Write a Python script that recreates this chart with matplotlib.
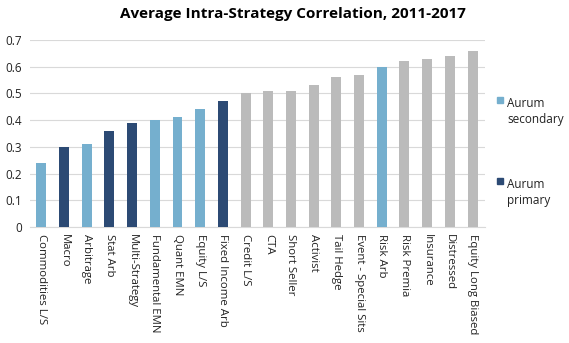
import matplotlib.pyplot as plt

plt.rcParams['font.family'] = ['Open Sans', 'DejaVu Sans']

# Average intra-strategy correlation by strategy
strategies = ["Commodities L/S", "Macro", "Arbitrage", "Stat Arb", "Multi-Strategy",
              "Fundamental EMN", "Quant EMN", "Equity L/S", "Fixed Income Arb",
              "Credit L/S", "CTA", "Short Seller", "Activist", "Tail Hedge",
              "Event - Special Sits", "Risk Arb", "Risk Premia", "Insurance",
              "Distressed", "Equity Long Biased"]
corr = [0.24, 0.30, 0.31, 0.36, 0.39, 0.40, 0.41, 0.44, 0.47,
        0.50, 0.51, 0.51, 0.53, 0.56, 0.57, 0.60, 0.62, 0.63, 0.64, 0.66]
# s = Aurum secondary, p = Aurum primary, o = other
group = ["s", "p", "s", "p", "p", "s", "s", "s", "p",
         "o", "o", "o", "o", "o", "o", "s", "o", "o", "o", "o"]

c_sec = "#75AFCE"
c_pri = "#2C4A74"
c_oth = "#BBBBBB"
cmap = {"s": c_sec, "p": c_pri, "o": c_oth}

fig = plt.figure(figsize=(5.69, 3.43), dpi=100)
ax = fig.add_axes([30/569, 1 - 227/343, 455/569, 187/343])

x = range(len(strategies))
ax.bar(x, corr, width=0.44, color=[cmap[g] for g in group], zorder=3)

ax.set_ylim(0, 0.7)
ax.set_xlim(-0.5, 19.55)
ax.set_yticks([0, 0.1, 0.2, 0.3, 0.4, 0.5, 0.6, 0.7])
ax.set_yticklabels(["0", "0.1", "0.2", "0.3", "0.4", "0.5", "0.6", "0.7"], fontsize=8.5)
ax.set_xticks(list(x))
ax.set_xticklabels(strategies, rotation=270, fontsize=8.2, va="top", ha="center")
ax.tick_params(length=0, pad=5, colors="#222222")
ax.tick_params(axis="y", pad=6)
ax.grid(axis="y", color="#D9D9D9", linewidth=0.8, zorder=0)
for s in ["top", "right", "left"]:
    ax.spines[s].set_visible(False)
ax.spines["bottom"].set_color("#D9D9D9")

fig.text(293/569, 1 - 14/343, "Average Intra-Strategy Correlation, 2011-2017",
         ha="center", va="center", fontsize=11, fontweight="bold")

# legend entries stacked on the right
for ypx, col, lab in [(97, c_sec, "Aurum\nsecondary"), (178, c_pri, "Aurum\nprimary")]:
    fig.patches.append(plt.Rectangle((497/569, 1 - (ypx + 6)/343), 6/569, 6/343,
                                     color=col, transform=fig.transFigure))
    fig.text(507/569, 1 - ypx/343, lab, ha="left", va="top",
             fontsize=8.5, linespacing=1.3, color="#222222")

fig.savefig("out.png", dpi=100)
